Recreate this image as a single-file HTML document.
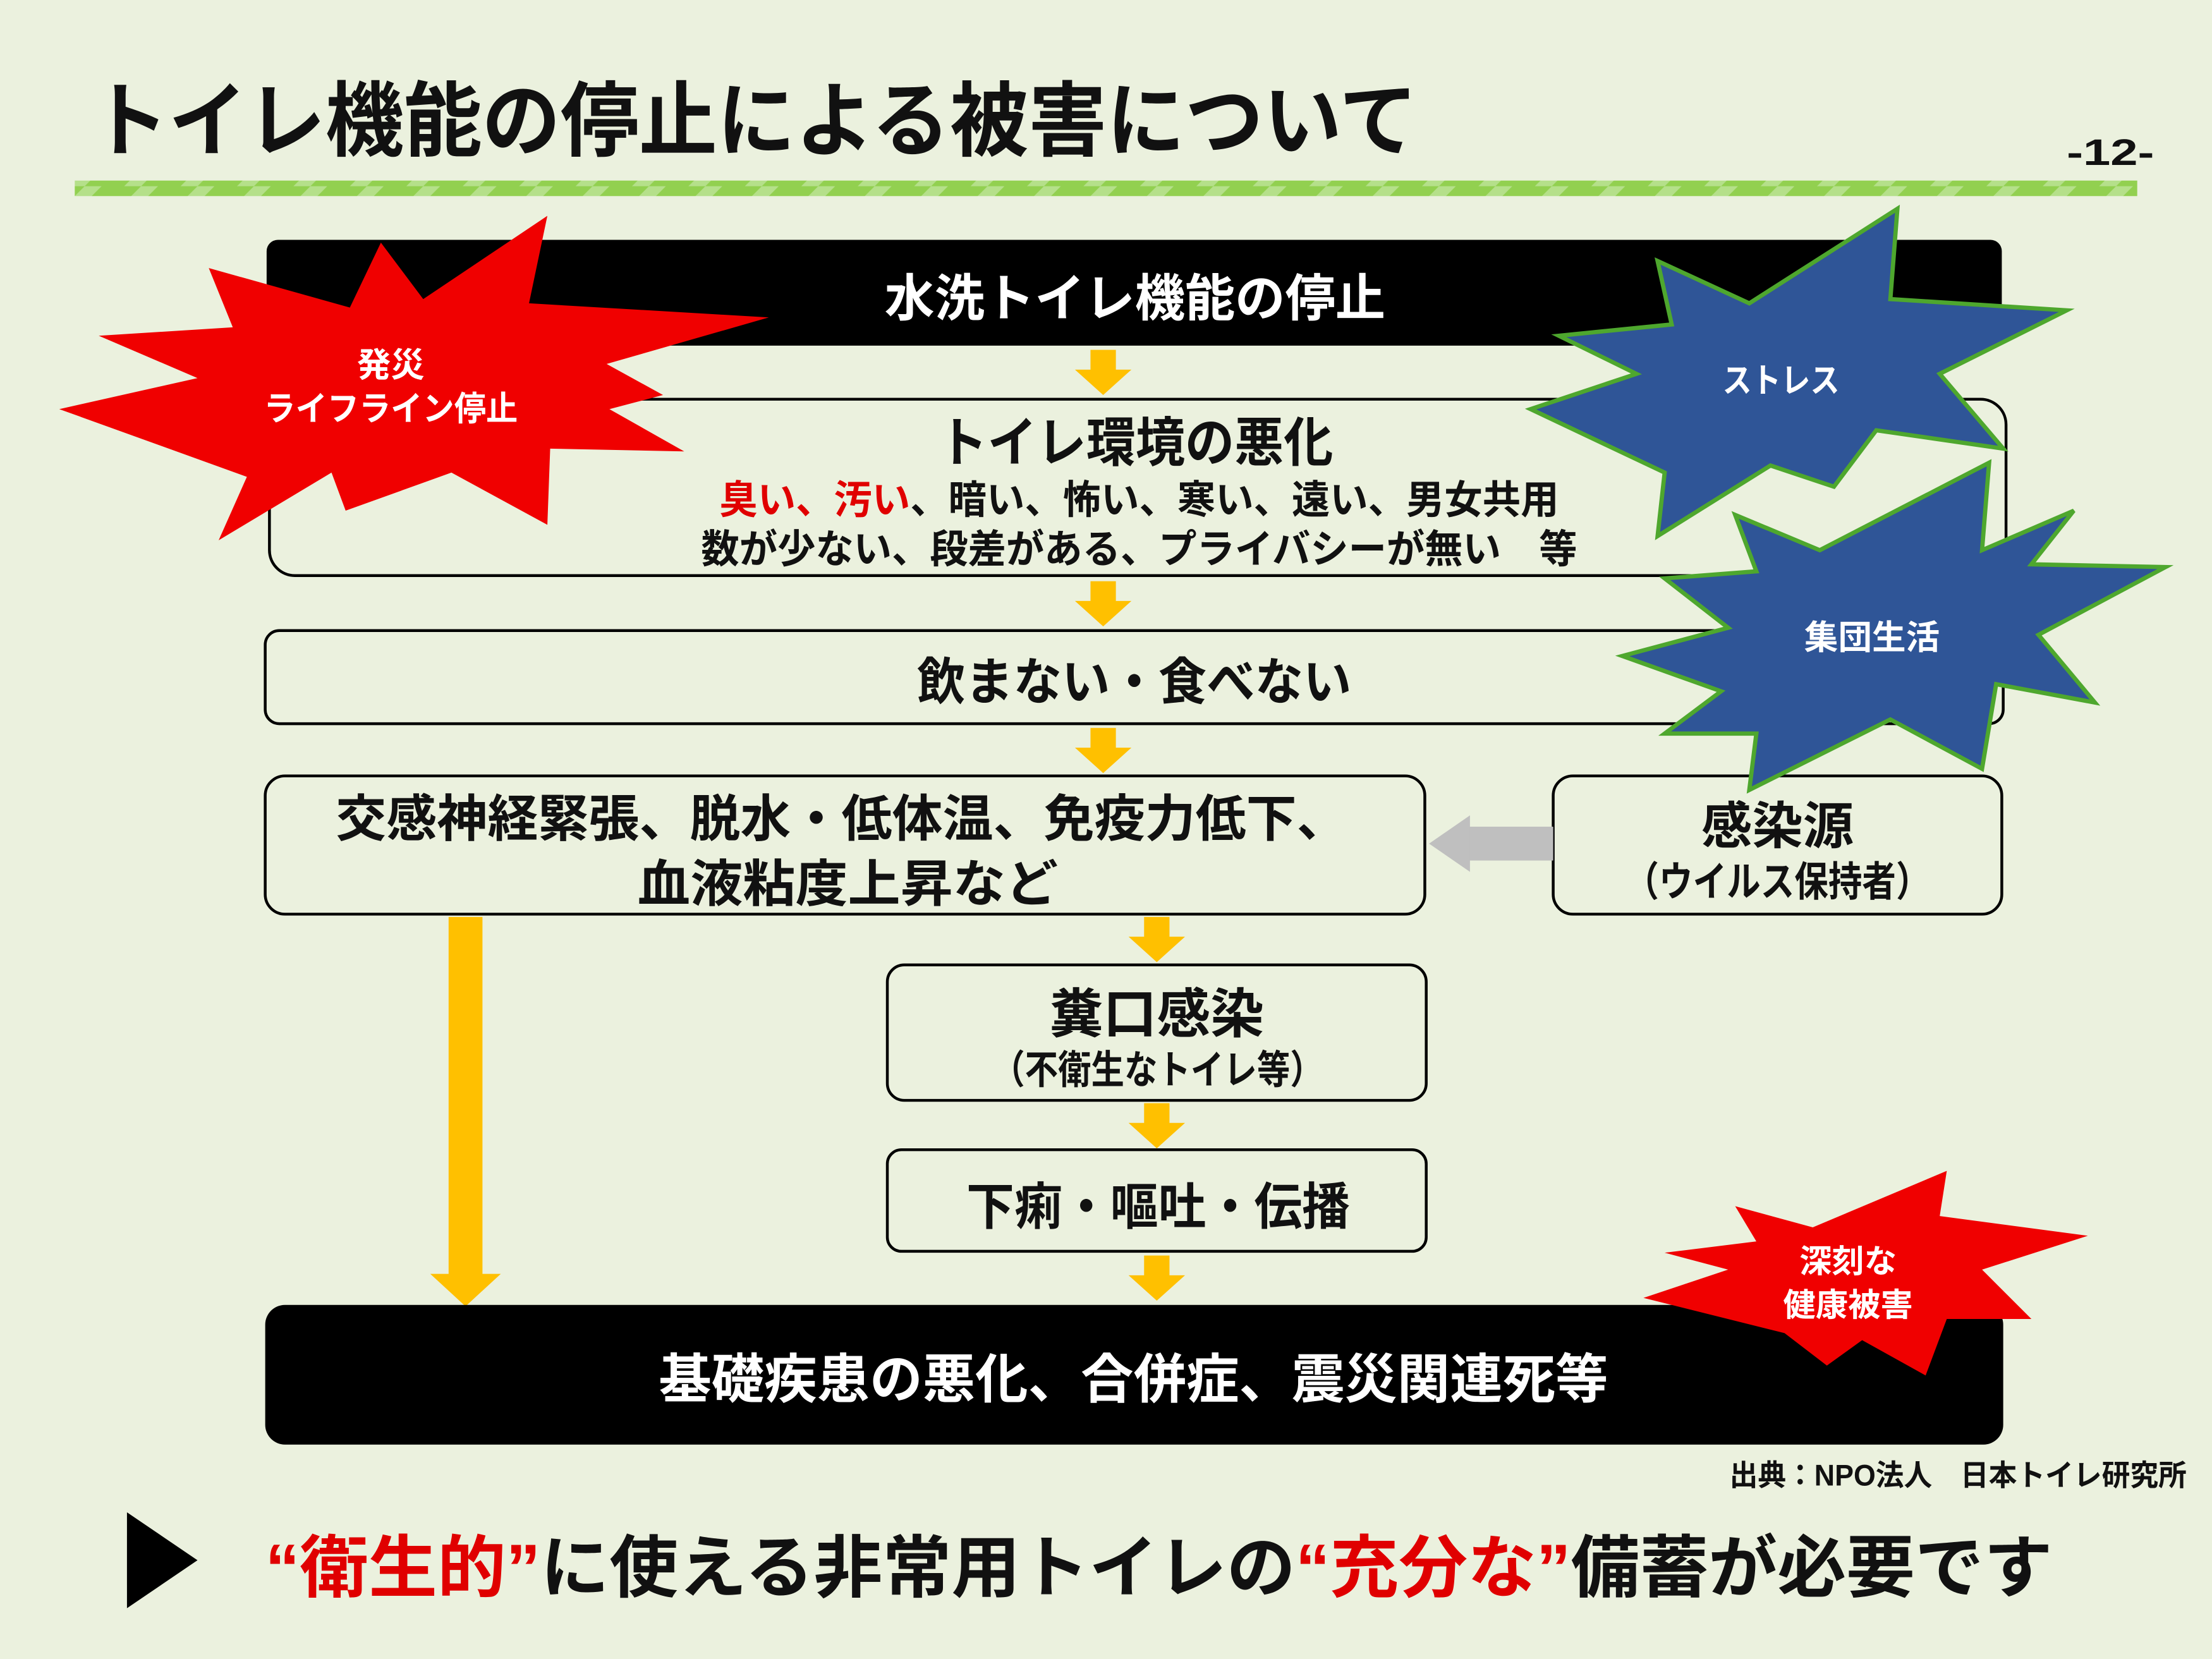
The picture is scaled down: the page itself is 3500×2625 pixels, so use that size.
<!DOCTYPE html>
<html><head><meta charset="utf-8"><style>
html,body{margin:0;padding:0;background:#ebf1de;}
svg{display:block}
text{font-family:"Liberation Sans","Noto Sans CJK JP",sans-serif;font-weight:bold;}
</style></head><body>
<svg width="3500" height="2625" viewBox="0 0 1568 1176" xmlns="http://www.w3.org/2000/svg">
<defs>
<pattern id="st" width="40" height="12" patternUnits="userSpaceOnUse">
<rect width="40" height="12" fill="#92d050"/>
<polygon points="20,0 32,0 20,12 8,12" fill="#b5e08a"/>
</pattern>
<g id="dn"><rect x="-9" y="0" width="18" height="16" fill="#ffc000"/><polygon points="-20,14 20,14 0,32" fill="#ffc000"/></g>
</defs>
<rect width="1568" height="1176" fill="#ebf1de"/>
<text x="64" y="106" font-size="58" font-weight="900" fill="#111" textLength="941" lengthAdjust="spacingAndGlyphs">トイレ機能の停止による被害について</text>
<text x="1465" y="117" font-size="26" fill="#111" textLength="62" lengthAdjust="spacingAndGlyphs">-12-</text>
<rect x="53" y="128" width="1462" height="11" fill="url(#st)"/>

<rect x="189" y="170" width="1230" height="75" rx="8" fill="#000"/>
<text x="627" y="224" font-size="36" fill="#fff" textLength="355" lengthAdjust="spacingAndGlyphs">水洗トイレ機能の停止</text>
<use href="#dn" x="782" y="248"/>
<rect x="191" y="283" width="1231" height="125" rx="18" fill="#ebf1de" stroke="#000" stroke-width="2"/>
<text x="665" y="327" font-size="38" fill="#111" textLength="280" lengthAdjust="spacingAndGlyphs">トイレ環境の悪化</text>
<text x="510" y="364" font-size="28" fill="#111" textLength="595" lengthAdjust="spacingAndGlyphs"><tspan fill="#e00000">臭い、汚い</tspan>、暗い、怖い、寒い、遠い、男女共用</text>
<text x="497" y="399" font-size="28" fill="#111" textLength="621" lengthAdjust="spacingAndGlyphs">数が少ない、段差がある、プライバシーが無い　等</text>
<use href="#dn" x="782" y="412"/>
<rect x="188" y="447" width="1232" height="66" rx="10" fill="#ebf1de" stroke="#000" stroke-width="2"/>
<text x="650" y="496" font-size="36" fill="#111" textLength="308" lengthAdjust="spacingAndGlyphs">飲まない・食べない</text>
<use href="#dn" x="782" y="516"/>
<rect x="188" y="550" width="822" height="98" rx="14" fill="#ebf1de" stroke="#000" stroke-width="2"/>
<text x="238" y="593" font-size="36" fill="#111" textLength="717" lengthAdjust="spacingAndGlyphs">交感神経緊張、脱水・低体温、免疫力低下、</text>
<text x="452" y="639" font-size="36" fill="#111" textLength="298" lengthAdjust="spacingAndGlyphs">血液粘度上昇など</text>
<rect x="1101" y="550" width="318" height="98" rx="14" fill="#ebf1de" stroke="#000" stroke-width="2"/>
<text x="1260" y="598" font-size="36" text-anchor="middle" fill="#111">感染源</text>
<text x="1152" y="635" font-size="29" fill="#111" textLength="216" lengthAdjust="spacingAndGlyphs">（ウイルス保持者）</text>
<rect x="1040" y="586" width="61" height="24" fill="#bfbfbf"/>
<polygon points="1042,578 1042,618 1013,598" fill="#bfbfbf"/>
<rect x="318" y="650" width="24" height="255" fill="#ffc000"/>
<polygon points="305,903 355,903 330,926" fill="#ffc000"/>
<use href="#dn" x="820" y="650"/>
<rect x="629" y="684" width="382" height="96" rx="12" fill="#ebf1de" stroke="#000" stroke-width="2"/>
<text x="820" y="732" font-size="38" text-anchor="middle" fill="#111">糞口感染</text>
<text x="703" y="768" font-size="28" fill="#111" textLength="235" lengthAdjust="spacingAndGlyphs">（不衛生なトイレ等）</text>
<use href="#dn" x="820" y="782"/>
<rect x="629" y="815" width="382" height="72" rx="10" fill="#ebf1de" stroke="#000" stroke-width="2"/>
<text x="685" y="868" font-size="36" fill="#111" textLength="272" lengthAdjust="spacingAndGlyphs">下痢・嘔吐・伝播</text>
<use href="#dn" x="820" y="890"/>
<rect x="188" y="925" width="1232" height="99" rx="14" fill="#000"/>
<text x="467" y="991" font-size="38" fill="#fff" textLength="673" lengthAdjust="spacingAndGlyphs">基礎疾患の悪化、合併症、震災関連死等</text>

<polygon points="148,190 248,218 270,172 300,212 388,153 375,215 545,225 430,258 470,280 432,290 485,320 390,318 388,372 320,335 245,362 235,335 155,383 175,338 42,290 140,268 70,238 165,232" fill="#f00000"/>
<text x="277" y="267" font-size="24" fill="#fff" text-anchor="middle">発災</text>
<text x="187" y="298" font-size="24" fill="#fff" textLength="180" lengthAdjust="spacingAndGlyphs">ライフライン停止</text>

<polygon points="1175,185 1240,215 1345,148 1340,212 1465,220 1375,265 1420,318 1330,305 1300,345 1255,330 1175,380 1180,335 1085,290 1160,265 1105,238 1185,230" fill="#2f5597" stroke="#4ea72e" stroke-width="3"/>
<text x="1221" y="278" font-size="24" fill="#fff" textLength="83" lengthAdjust="spacingAndGlyphs">ストレス</text>

<polygon points="1230,365 1290,390 1410,328 1405,390 1470,362 1440,400 1535,402 1445,450 1485,498 1415,485 1405,545 1340,510 1240,560 1245,520 1180,520 1220,490 1150,465 1225,445 1180,410 1245,405" fill="#2f5597" stroke="#4ea72e" stroke-width="3"/>
<text x="1327" y="460" font-size="24" fill="#fff" text-anchor="middle">集団生活</text>

<polygon points="1230,855 1285,870 1380,830 1375,862 1480,876 1405,900 1440,935 1380,935 1365,975 1320,950 1295,968 1265,945 1165,920 1225,900 1180,888 1245,880" fill="#f00000"/>
<text x="1310" y="902" font-size="23" fill="#fff" text-anchor="middle">深刻な</text>
<text x="1310" y="933" font-size="23" fill="#fff" text-anchor="middle">健康被害</text>

<text x="1226" y="1053" font-size="21" fill="#111" textLength="324" lengthAdjust="spacingAndGlyphs">出典：NPO法人　日本トイレ研究所</text>
<polygon points="90,1072 90,1140 140,1106" fill="#000"/>
<text x="188" y="1128" font-size="48" font-weight="900" fill="#111" textLength="1267" lengthAdjust="spacingAndGlyphs"><tspan fill="#e00000">“衛生的”</tspan>に使える非常用トイレの<tspan fill="#e00000">“充分な”</tspan>備蓄が必要です</text>
</svg>
</body></html>
